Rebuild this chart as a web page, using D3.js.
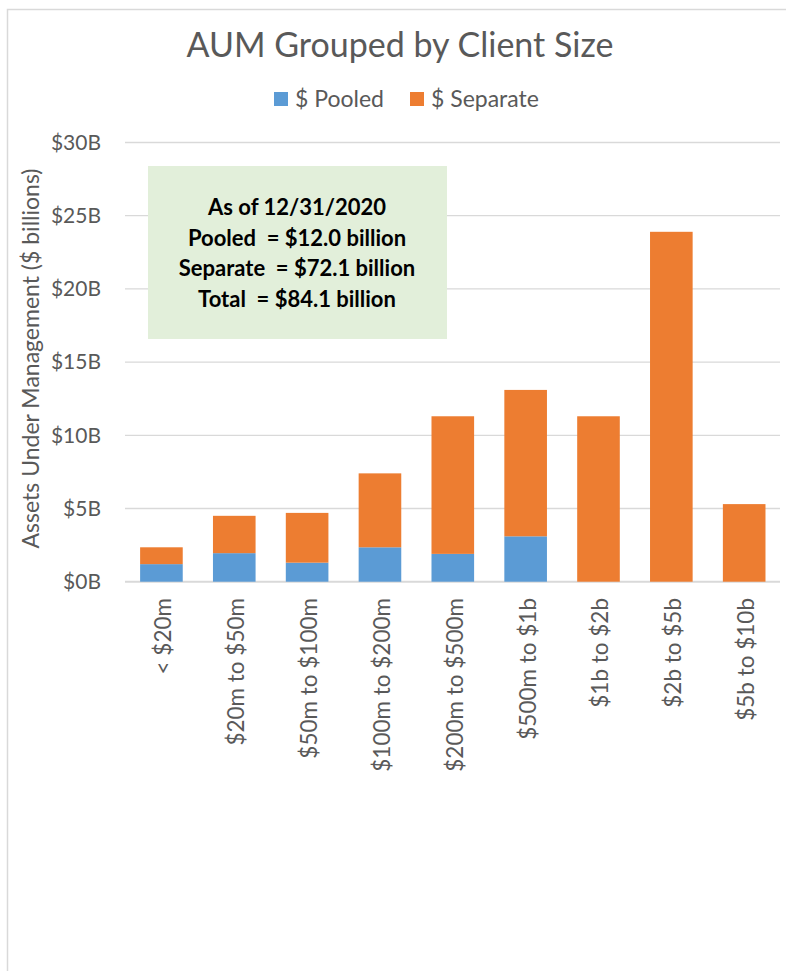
<!DOCTYPE html>
<html>
<head>
<meta charset="utf-8">
<script src="https://cdn.jsdelivr.net/npm/d3@7"></script>
<style>
  html, body { margin: 0; padding: 0; background: #fff; }
  svg { display: block; }
  text { font-family: Lato, "Open Sans", sans-serif; }
</style>
</head>
<body>
<svg id="chart" width="786" height="971"></svg>
<script>
// Client size buckets and AUM in $ billions
const categories = ["< $20m", "$20m to $50m", "$50m to $100m", "$100m to $200m",
  "$200m to $500m", "$500m to $1b", "$1b to $2b", "$2b to $5b", "$5b to $10b"];
const pooled   = [1.2, 1.95, 1.3, 2.35, 1.9, 3.1, 0, 0, 0];
const separate = [1.15, 2.55, 3.4, 5.05, 9.4, 10.0, 11.3, 23.9, 5.3];
const seriesNames = ["$ Pooled", "$ Separate"];
const seriesColors = ["#5b9bd5", "#ed7d31"];
const yTicks = [0, 5, 10, 15, 20, 25, 30];
const noteLines = ["As of 12/31/2020", "Pooled  = $12.0 billion",
  "Separate  = $72.1 billion", "Total  = $84.1 billion"];

const svg = d3.select("#chart");
const textColor = "#595959";

// Outer chart frame
svg.append("rect")
  .attr("x", 7.5).attr("y", 9.5).attr("width", 790).attr("height", 980)
  .attr("fill", "none").attr("stroke", "#d9d9d9").attr("stroke-width", 1.5);

const x = d3.scaleBand().domain(categories).range([125, 780.6])
  .paddingInner(0.415).paddingOuter(0.2075);
const y = d3.scaleLinear().domain([0, 30]).range([581.7, 142.5]);

// Gridlines
svg.append("g").selectAll("line").data(yTicks).join("line")
  .attr("x1", 125).attr("x2", 780)
  .attr("y1", d => y(d)).attr("y2", d => y(d))
  .attr("stroke", "#d9d9d9").attr("stroke-width", d => d === 0 ? 2 : 1.3);

// Y tick labels
svg.append("g").selectAll("text").data(yTicks).join("text")
  .attr("x", 101).attr("y", d => y(d)).attr("dy", "0.35em")
  .attr("text-anchor", "end").attr("fill", textColor)
  .attr("font-size", 21).text(d => "$" + d + "B");

// Stacked bars
const rows = categories.map((c, i) => ({ cat: c, pooled: pooled[i], separate: separate[i] }));
const stack = d3.stack().keys(["pooled", "separate"])(rows);
svg.append("g").selectAll("g").data(stack).join("g")
  .attr("fill", (d, i) => seriesColors[i])
  .selectAll("rect").data(d => d).join("rect")
  .attr("x", d => x(d.data.cat))
  .attr("width", x.bandwidth())
  .attr("y", d => y(d[1]))
  .attr("height", d => Math.max(0, y(d[0]) - y(d[1])));

// Category labels, rotated
svg.append("g").selectAll("text").data(categories).join("text")
  .attr("transform", d => `translate(${x(d) + x.bandwidth() / 2 + 10},598) rotate(-90)`)
  .attr("text-anchor", "end").attr("fill", textColor)
  .attr("font-size", 22.5).text(d => d);

// Y axis title
svg.append("text")
  .attr("transform", "translate(39,358.5) rotate(-90)")
  .attr("text-anchor", "middle").attr("fill", textColor)
  .attr("font-size", 23).text("Assets Under Management ($ billions)");

// Chart title
svg.append("text")
  .attr("x", 400).attr("y", 57).attr("text-anchor", "middle")
  .attr("fill", textColor).attr("font-size", 34)
  .text("AUM Grouped by Client Size");

// Legend
const legend = svg.append("g");
const legendX = [274, 410];
seriesNames.forEach((name, i) => {
  legend.append("rect").attr("x", legendX[i]).attr("y", 92)
    .attr("width", 14).attr("height", 14).attr("fill", seriesColors[i]);
  legend.append("text").attr("x", legendX[i] + 21).attr("y", 106.5)
    .attr("fill", textColor).attr("font-size", 23).text(name);
});

// Summary note
svg.append("rect").attr("x", 148).attr("y", 166).attr("width", 299).attr("height", 173)
  .attr("fill", "#e2efda");
svg.append("g").selectAll("text").data(noteLines).join("text")
  .attr("x", 297).attr("y", (d, i) => 215 + i * 30.5)
  .attr("text-anchor", "middle").attr("font-weight", "bold")
  .attr("fill", "#000").attr("font-size", 22)
  .style("white-space", "pre").text(d => d);
</script>
</body>
</html>
